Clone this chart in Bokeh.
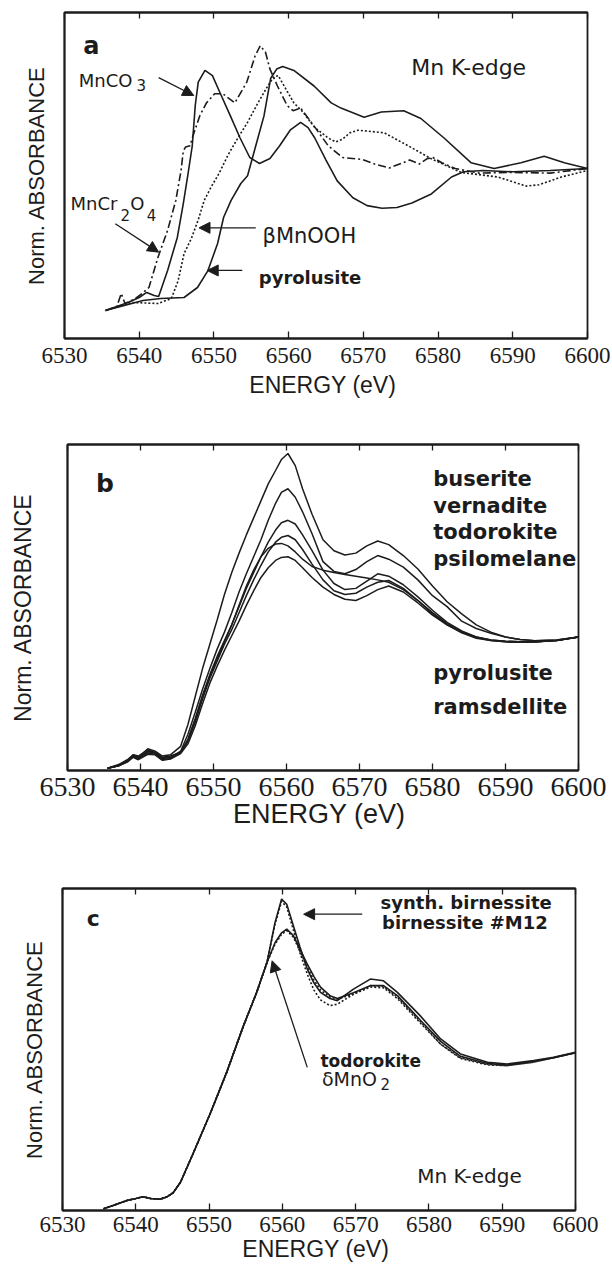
from bokeh.plotting import figure
from bokeh.models import Range1d, LinearAxis, FixedTicker, Arrow, NormalHead, CustomJSTickFormatter
from bokeh.core.properties import value
from bokeh.embed import file_html
from bokeh.resources import INLINE

# ---------------- data ----------------
TICKS = [6530, 6540, 6550, 6560, 6570, 6580, 6590, 6600]

# panel a  (energy in eV, normalized absorbance)
E_A_MNCO3 = [6535.5, 6537, 6538.5, 6540, 6541, 6542, 6542.6, 6543.8, 6545.1, 6545.9, 6546.6, 6547.1,
             6547.5, 6547.9, 6548.8, 6549.8, 6550.8, 6552.2, 6553.5, 6554.8, 6556.1, 6557.5, 6558.8,
             6560.2, 6561.6, 6562.6, 6563.5, 6565, 6566.5, 6568.6, 6570.5, 6572.5, 6574.5, 6576.5,
             6579.1, 6581.8, 6583.4, 6586, 6590, 6595, 6600]
A_MNCO3 = [-0.077, -0.046, -0.015, 0.023, 0.062, 0.038, 0.031, 0.231, 0.485, 0.746, 1.0, 1.19,
           1.50, 1.68, 1.77, 1.73, 1.60, 1.42, 1.25, 1.10, 1.054, 1.092, 1.19,
           1.31, 1.37, 1.33, 1.25, 1.08, 0.92, 0.79, 0.73, 0.71, 0.715, 0.75,
           0.82, 0.95, 0.99, 1.0, 0.99, 1.0, 1.015]

E_A_MNCR = [6535.5, 6537, 6537.6, 6538.1, 6539.5, 6540.5, 6541.3, 6542.5, 6543.8, 6544.9, 6545.6,
            6545.9, 6546.2, 6546.8, 6547.1, 6548.1, 6549.0, 6550.1, 6551.2, 6552.8, 6554.4, 6555.5,
            6556.2, 6556.9, 6557.5, 6558.5, 6559.8, 6560.6, 6561.6, 6563.3, 6565.3, 6567.2, 6569.9,
            6571.5, 6573.5, 6576.2, 6577.5, 6578.5, 6579.3, 6580.5, 6582.3, 6585.5, 6590, 6595, 6600]
A_MNCR = [-0.077, -0.046, 0.054, -0.023, 0.015, 0.06, 0.10, 0.33, 0.54, 0.77, 1.0,
          1.15, 1.18, 1.19, 1.25, 1.42, 1.52, 1.59, 1.59, 1.52, 1.68, 1.88,
          1.96, 1.91, 1.78, 1.65, 1.50, 1.46, 1.48, 1.35, 1.19, 1.10, 1.085,
          1.05, 1.02, 1.08, 1.05, 1.09, 1.10, 1.06, 1.015, 0.98, 0.985, 0.98, 1.015]

E_A_MNOOH = [6535.5, 6539, 6542.5, 6544.3, 6545.2, 6546.0, 6547.0, 6547.9, 6548.7, 6549.6, 6550.7,
             6551.9, 6553.2, 6554.5, 6555.9, 6557.2, 6558.0, 6558.6, 6559.4, 6560.7, 6561.9, 6563.5,
             6565.3, 6566.3, 6567.2, 6568.2, 6569.3, 6572.8, 6576.0, 6579.1, 6583.1, 6588.0, 6591.8,
             6593.5, 6596.5, 6600]
A_MNOOH = [-0.077, -0.015, -0.023, 0.015, 0.15, 0.36, 0.48, 0.62, 0.77, 0.87, 0.98,
           1.12, 1.25, 1.37, 1.52, 1.65, 1.72, 1.73, 1.65, 1.52, 1.45, 1.33,
           1.25, 1.22, 1.24, 1.29, 1.31, 1.29, 1.19, 1.09, 0.985, 0.95, 0.88,
           0.89, 0.95, 1.0]

E_A_PYRO = [6535.5, 6538, 6540.5, 6542.9, 6546.0, 6547.8, 6549.2, 6550.5, 6551.3, 6552.3, 6553.6,
            6554.5, 6555.6, 6556.7, 6557.6, 6558.4, 6559.2, 6560.7, 6563.4, 6565.7, 6567.0, 6570.1,
            6572.4, 6575.4, 6577.7, 6580.8, 6584.4, 6587.5, 6591.1, 6594.2, 6596.9, 6600]
A_PYRO = [-0.077, -0.038, 0.0, 0.015, 0.023, 0.10, 0.23, 0.44, 0.64, 0.77, 0.90,
          0.96, 1.19, 1.42, 1.71, 1.78, 1.80, 1.77, 1.65, 1.52, 1.48, 1.41,
          1.45, 1.46, 1.40, 1.25, 1.06, 1.015, 1.06, 1.11, 1.06, 1.015]

# panel b
E_B = [6535.5, 6537, 6538.2, 6539, 6539.7, 6541, 6542, 6543, 6544.1, 6545.5,
       6546.5, 6547.5, 6548.5, 6549.5, 6550.5, 6551.5, 6552.5, 6553.5, 6554.5, 6555.5,
       6556.5, 6557.5, 6558.5, 6559.3, 6560.2, 6561.2, 6562.2, 6563.5, 6565, 6566.5,
       6568, 6569.5, 6571, 6572.5, 6574, 6576, 6578, 6580, 6582, 6584,
       6586, 6588, 6590, 6592, 6594, 6597, 6600]
B_1 = [-0.08, -0.06, -0.02, 0.03, 0.01, 0.08, 0.06, 0.02, 0.03, 0.10,
       0.28, 0.51, 0.74, 0.94, 1.14, 1.35, 1.53, 1.69, 1.84, 1.98,
       2.12, 2.26, 2.37, 2.46, 2.51, 2.41, 2.22, 2.01, 1.80, 1.71,
       1.675, 1.69, 1.75, 1.79, 1.76, 1.67, 1.56, 1.42, 1.29, 1.19,
       1.10, 1.04, 1.0, 0.98, 0.97, 0.975, 1.0]
B_2 = [-0.08, -0.055, -0.02, 0.02, 0.0, 0.06, 0.05, 0.0, 0.01, 0.06,
       0.20, 0.38, 0.57, 0.74, 0.90, 1.04, 1.20, 1.37, 1.52, 1.66,
       1.80, 1.96, 2.10, 2.19, 2.22, 2.15, 2.03, 1.85, 1.62, 1.54,
       1.52, 1.555, 1.62, 1.67, 1.64, 1.575, 1.47, 1.34, 1.25, 1.13,
       1.07, 1.03, 1.0, 0.98, 0.97, 0.975, 1.0]
B_3 = [-0.08, -0.05, -0.01, 0.03, 0.02, 0.07, 0.05, 0.01, 0.02, 0.05,
       0.16, 0.33, 0.52, 0.69, 0.84, 0.97, 1.10, 1.25, 1.40, 1.53,
       1.66, 1.78, 1.88, 1.94, 1.96, 1.93, 1.84, 1.71, 1.55, 1.44,
       1.39, 1.40, 1.46, 1.52, 1.50, 1.43, 1.33, 1.22, 1.12, 1.05,
       1.0, 0.975, 0.965, 0.96, 0.96, 0.97, 1.0]
B_4 = [-0.08, -0.06, -0.025, 0.015, -0.005, 0.045, 0.035, -0.01, 0.0, 0.05,
       0.14, 0.30, 0.49, 0.66, 0.80, 0.94, 1.06, 1.20, 1.34, 1.47,
       1.59, 1.70, 1.78, 1.82, 1.835, 1.80, 1.72, 1.60, 1.47, 1.38,
       1.35, 1.36, 1.41, 1.45, 1.465, 1.40, 1.30, 1.19, 1.10, 1.04,
       0.995, 0.97, 0.96, 0.958, 0.96, 0.97, 1.0]
B_5 = [-0.08, -0.055, -0.015, 0.025, 0.01, 0.055, 0.045, 0.005, 0.01, 0.05,
       0.15, 0.32, 0.51, 0.68, 0.82, 0.96, 1.10, 1.26, 1.42, 1.55,
       1.66, 1.73, 1.765, 1.77, 1.75, 1.70, 1.64, 1.58, 1.55, 1.53,
       1.515, 1.50, 1.485, 1.47, 1.45, 1.39, 1.30, 1.20, 1.11, 1.04,
       1.0, 0.975, 0.965, 0.96, 0.96, 0.97, 1.0]
B_6 = [-0.08, -0.06, -0.03, 0.01, -0.01, 0.035, 0.03, -0.015, -0.005, 0.04,
       0.12, 0.27, 0.45, 0.62, 0.76, 0.89, 1.01, 1.13, 1.26, 1.38,
       1.49, 1.57, 1.63, 1.655, 1.66, 1.63, 1.57, 1.49, 1.41, 1.35,
       1.31, 1.30, 1.34, 1.39, 1.42, 1.37, 1.28, 1.18, 1.10, 1.035,
       0.99, 0.97, 0.96, 0.957, 0.958, 0.97, 1.0]
B_LABELS_TOP = ["buserite", "vernadite", "todorokite", "psilomelane"]
B_LABELS_BOTTOM = ["pyrolusite", "ramsdellite"]

# panel c
E_C = [6535.6, 6536.9, 6538.8, 6540, 6541, 6542, 6543.3, 6544.2, 6545.1, 6546.1,
       6547.9, 6550.2, 6552.4, 6554.7, 6556.5, 6557.9, 6559.0, 6559.9, 6560.6, 6561.5,
       6562.4, 6563.4, 6564.3, 6565.2, 6566.5, 6567.5, 6569.7, 6572, 6573.8, 6575.7,
       6578.8, 6581.6, 6584.3, 6588, 6590.7, 6594.3, 6597, 6600]
C_EDGE = [-0.072, -0.049, -0.014, 0.0, 0.012, 0.0, -0.005, 0.01, 0.04, 0.114,
          0.324, 0.60, 0.883, 1.21, 1.443, 1.652]
C_SYNTH = C_EDGE + [1.932, 2.096, 2.06, 1.91, 1.76, 1.606, 1.51, 1.443, 1.40, 1.385,
                    1.466, 1.536, 1.524, 1.443, 1.28, 1.117, 1.012, 0.953, 0.942, 0.965, 0.988, 1.023]
C_M12 = C_EDGE + [1.92, 2.08, 2.04, 1.88, 1.72, 1.57, 1.46, 1.39, 1.35, 1.36,
                  1.43, 1.49, 1.485, 1.41, 1.24, 1.08, 0.98, 0.935, 0.93, 0.955, 0.985, 1.02]
C_TODO = C_EDGE + [1.79, 1.86, 1.886, 1.84, 1.746, 1.64, 1.555, 1.48, 1.42, 1.40,
                   1.44, 1.49, 1.49, 1.42, 1.25, 1.10, 0.995, 0.945, 0.935, 0.96, 0.985, 1.02]
C_DELTA = C_EDGE + [1.78, 1.85, 1.875, 1.83, 1.73, 1.62, 1.53, 1.46, 1.41, 1.395,
                    1.43, 1.48, 1.475, 1.40, 1.23, 1.08, 0.985, 0.94, 0.93, 0.955, 0.985, 1.02]

# ---------------- styling helpers ----------------
INK = "#1c1c1c"
SANS = "DejaVu Sans"
LW = 1.6


def make_panel(height, top, bottom, left, right, ylo, yhi,
               tick_size, tick_standoff, xlab_size, xlab_standoff, ylab_size, ylab_standoff):
    p = figure(width=612, height=height, x_range=Range1d(6530, 6600), y_range=Range1d(ylo, yhi),
               output_backend="svg", toolbar_location=None,
               min_border_top=top, min_border_bottom=bottom,
               min_border_left=left, min_border_right=right)
    p.grid.visible = False
    p.outline_line_color = INK
    p.outline_line_width = 1.8
    p.background_fill_color = "white"
    p.border_fill_color = "white"

    xa = p.xaxis[0]
    xa.ticker = FixedTicker(ticks=TICKS, minor_ticks=[])
    xa.major_tick_in = 7
    xa.major_tick_out = 0
    xa.minor_tick_line_color = None
    xa.major_tick_line_color = INK
    xa.major_tick_line_width = 1.3
    xa.axis_line_color = INK
    xa.axis_line_width = 1.8
    xa.major_label_text_font = "Liberation Serif"
    xa.major_label_text_font_size = tick_size
    xa.major_label_text_color = INK
    xa.major_label_standoff = tick_standoff
    xa.axis_label = "ENERGY  (eV)"
    xa.axis_label_text_font = "Liberation Sans"
    xa.axis_label_text_font_style = "normal"
    xa.axis_label_text_font_size = xlab_size
    xa.axis_label_text_color = INK
    xa.axis_label_standoff = xlab_standoff

    top_axis = LinearAxis(ticker=FixedTicker(ticks=TICKS, minor_ticks=[]),
                          formatter=CustomJSTickFormatter(code="return ''"),
                          major_tick_in=6, major_tick_out=0, major_label_standoff=0,
                          minor_tick_line_color=None, major_tick_line_color=INK,
                          major_tick_line_width=1.3, axis_line_color=INK, axis_line_width=1.8)
    p.add_layout(top_axis, "above")

    ya = p.yaxis[0]
    ya.ticker = FixedTicker(ticks=[], minor_ticks=[])
    ya.major_tick_line_color = None
    ya.minor_tick_line_color = None
    ya.major_tick_in = 0
    ya.major_tick_out = 0
    ya.major_label_standoff = 0
    ya.axis_line_color = INK
    ya.axis_line_width = 1.8
    ya.axis_label = "Norm. ABSORBANCE"
    ya.axis_label_text_font = "Liberation Sans"
    ya.axis_label_text_font_style = "normal"
    ya.axis_label_text_font_size = ylab_size
    ya.axis_label_text_color = INK
    ya.axis_label_standoff = ylab_standoff
    return p


def label(p, x, y, txt, size, bold=False, font=SANS):
    p.text(x=[x], y=[y], text=[txt], text_font=value(font), text_font_size=value(size),
           text_font_style="bold" if bold else "normal", text_color=INK,
           text_align="left", text_baseline="alphabetic")


def arrow(p, x0, y0, x1, y1):
    p.add_layout(Arrow(end=NormalHead(size=11, fill_color=INK, line_color=INK, line_width=1),
                       x_start=x0, y_start=y0, x_end=x1, y_end=y1,
                       line_color=INK, line_width=1.3))


# ---------------- panel a ----------------
pa = make_panel(405, 12, 67, 64, 25, -0.2923, 2.2154,
                "23px", 9, "23px", 6, "22px", 16)
pa.line(E_A_MNCO3, A_MNCO3, line_color=INK, line_width=LW)
pa.line(E_A_MNCR, A_MNCR, line_color=INK, line_width=LW, line_dash="8 3 2 3")
pa.line(E_A_MNOOH, A_MNOOH, line_color=INK, line_width=LW, line_dash="2 2")
pa.line(E_A_PYRO, A_PYRO, line_color=INK, line_width=LW)

label(pa, 6532.5, 1.96, "a", "24px", bold=True)
label(pa, 6576.4, 1.795, "Mn K-edge", "22px")
label(pa, 6531.9, 1.692, "MnCO", "18px")
label(pa, 6539.65, 1.654, "3", "15px")
arrow(pa, 6542.6, 1.715, 6547.3, 1.577)
label(pa, 6530.8, 0.746, "MnCr", "18px")
label(pa, 6537.5, 0.654, "2", "15px")
label(pa, 6538.8, 0.746, "O", "18px")
label(pa, 6541.0, 0.654, "4", "15px")
arrow(pa, 6536.8, 0.59, 6542.6, 0.372)
label(pa, 6556.5, 0.50, "βMnOOH", "21px")
arrow(pa, 6555.6, 0.559, 6548.0, 0.559)
label(pa, 6556.0, 0.18, "pyrolusite", "18px", bold=True)
arrow(pa, 6553.8, 0.231, 6549.1, 0.231)

# ---------------- panel b ----------------
pb = make_panel(435, 39, 70, 67, 34, -0.0988, 2.584,
                "28px", 7, "27px", 0, "23px", 32)
for ys in (B_1, B_2, B_3, B_4, B_5, B_6):
    pb.line(E_B, ys, line_color=INK, line_width=1.5)
label(pb, 6533.9, 2.263, "b", "25px", bold=True)
for txt, yb in zip(B_LABELS_TOP, [2.302, 2.082, 1.86, 1.638]):
    label(pb, 6580.1, yb, txt, "21px", bold=True)
for txt, yb in zip(B_LABELS_BOTTOM, [0.70, 0.422]):
    label(pb, 6580.1, yb, txt, "21px", bold=True)

# ---------------- panel c ----------------
pc = make_panel(430, 48, 60, 62, 37, -0.084, 2.17,
                "23px", 6, "23px", 1, "22px", 16)
pc.line(E_C, C_SYNTH, line_color=INK, line_width=LW)
pc.line(E_C, C_M12, line_color=INK, line_width=LW, line_dash="2 2")
pc.line(E_C, C_TODO, line_color=INK, line_width=LW)
pc.line(E_C, C_DELTA, line_color=INK, line_width=LW, line_dash="2 2")
label(pc, 6533.3, 1.958, "c", "22px", bold=True)
label(pc, 6573.4, 2.072, "synth.  birnessite", "18px", bold=True)
label(pc, 6573.6, 1.932, "birnessite  #M12", "18px", bold=True)
arrow(pc, 6570.9, 1.99, 6562.9, 1.99)
label(pc, 6565.2, 0.965, "todorokite", "17px", bold=True)
label(pc, 6565.4, 0.837, "δMnO", "19px")
label(pc, 6573.4, 0.80, "2", "15px")
arrow(pc, 6563.4, 0.918, 6558.6, 1.664)
label(pc, 6578.4, 0.161, "Mn K-edge", "20px")

open("out.html", "w").write(file_html([pa, pb, pc], INLINE))
